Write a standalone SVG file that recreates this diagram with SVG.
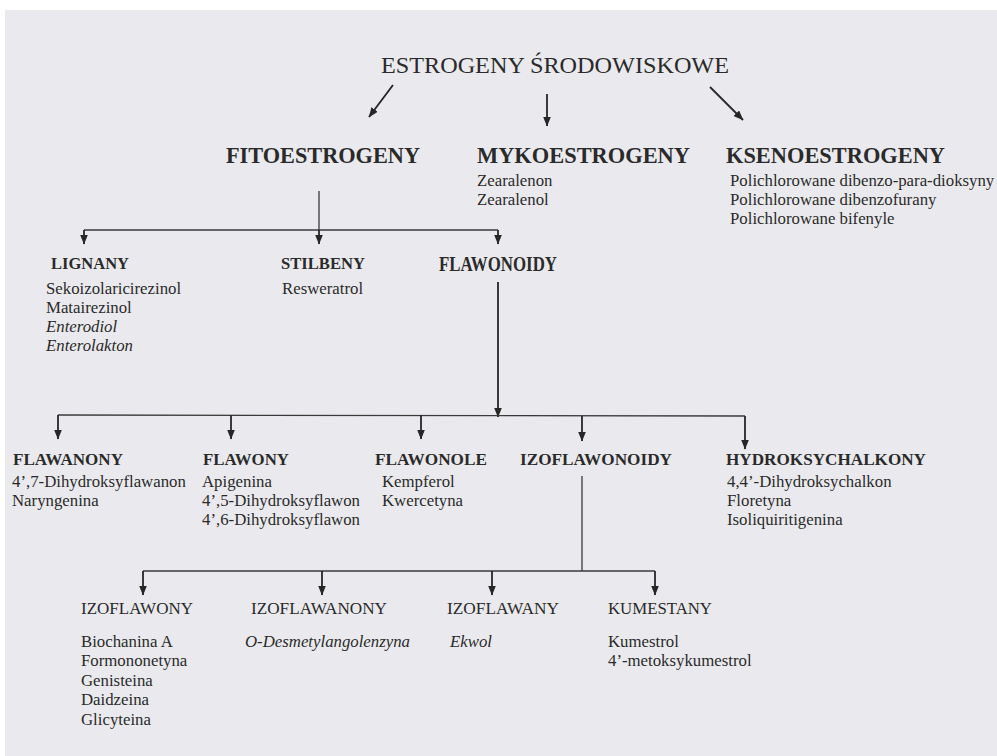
<svg xmlns="http://www.w3.org/2000/svg" width="997" height="756" viewBox="0 0 997 756">
<defs>
<marker id="ah" viewBox="0 0 10 8" refX="9.5" refY="4" markerWidth="10" markerHeight="8" markerUnits="userSpaceOnUse" orient="auto">
<path d="M0,0 L10,4 L0,8 Z" fill="#262626"/>
</marker>
</defs>
<style>
text{font-family:"Liberation Serif","Times New Roman","DejaVu Serif",serif;fill:#2a2a2a}
.t0{font-size:23px}
.t1{font-size:24px;font-weight:bold}
.t2{font-size:17px;font-weight:bold}
.t3{font-size:16.8px}
.it{font-style:italic}
.ln{stroke:#3a3a3a;stroke-width:1.3;fill:none}
.ar{stroke:#262626;stroke-width:1.8;fill:none;marker-end:url(#ah)}
</style>
<rect x="0" y="0" width="997" height="756" fill="#ffffff"/>
<rect x="5" y="10" width="992" height="746" fill="#eaeaee"/>
<g id="connectors">
<line class="ar" x1="393" y1="85" x2="369" y2="117"/>
<line class="ar" x1="547" y1="94" x2="547" y2="126"/>
<line class="ar" x1="710" y1="87" x2="743" y2="120"/>
<line class="ln" x1="319" y1="191" x2="319" y2="230"/>
<line class="ln" x1="84" y1="230" x2="498" y2="230"/>
<line class="ar" x1="84" y1="230" x2="84" y2="244"/>
<line class="ar" x1="319" y1="230" x2="319" y2="244"/>
<line class="ar" x1="498" y1="230" x2="498" y2="244"/>
<line class="ar" x1="498" y1="282" x2="498" y2="417"/>
<line class="ln" x1="58" y1="415" x2="745" y2="416"/>
<line class="ar" x1="58" y1="415" x2="58" y2="439"/>
<line class="ar" x1="231" y1="415" x2="231" y2="439"/>
<line class="ar" x1="421" y1="415" x2="421" y2="439"/>
<line class="ar" x1="582" y1="416" x2="582" y2="441"/>
<line class="ar" x1="745" y1="416" x2="745" y2="449"/>
<line class="ln" x1="582" y1="476" x2="582" y2="571"/>
<line class="ln" x1="143" y1="571" x2="655" y2="571"/>
<line class="ar" x1="143" y1="571" x2="143" y2="595"/>
<line class="ar" x1="322" y1="571" x2="322" y2="595"/>
<line class="ar" x1="492" y1="571" x2="492" y2="595"/>
<line class="ar" x1="655" y1="571" x2="655" y2="595"/>
</g>
<g id="root"><text class="t0" x="381" y="73" textLength="348" lengthAdjust="spacingAndGlyphs">ESTROGENY ŚRODOWISKOWE</text></g>
<g id="fitoestrogeny"><text class="t1" x="226" y="163" textLength="194" lengthAdjust="spacingAndGlyphs">FITOESTROGENY</text></g>
<g id="mykoestrogeny"><text class="t1" x="477" y="163" textLength="213" lengthAdjust="spacingAndGlyphs">MYKOESTROGENY</text>
<text class="t3" x="477" y="186">Zearalenon</text><text class="t3" x="477" y="205">Zearalenol</text></g>
<g id="ksenoestrogeny"><text class="t1" x="726" y="163" textLength="219" lengthAdjust="spacingAndGlyphs">KSENOESTROGENY</text>
<text class="t3" x="730" y="186">Polichlorowane dibenzo-para-dioksyny</text>
<text class="t3" x="730" y="205">Polichlorowane dibenzofurany</text>
<text class="t3" x="730" y="224">Polichlorowane bifenyle</text></g>
<g id="lignany"><text class="t2" x="51" y="269" textLength="78" lengthAdjust="spacingAndGlyphs">LIGNANY</text>
<text class="t3" x="46" y="294">Sekoizolaricirezinol</text><text class="t3" x="46" y="313">Matairezinol</text>
<text class="t3 it" x="46" y="332">Enterodiol</text><text class="t3 it" x="46" y="351">Enterolakton</text></g>
<g id="stilbeny"><text class="t2" x="281" y="269" textLength="84" lengthAdjust="spacingAndGlyphs">STILBENY</text><text class="t3" x="282" y="294">Resweratrol</text></g>
<g id="flawonoidy"><text class="t1" x="439" y="271" style="font-size:20px" textLength="118" lengthAdjust="spacingAndGlyphs">FLAWONOIDY</text></g>
<g id="flawanony"><text class="t2" x="13" y="465" textLength="110" lengthAdjust="spacingAndGlyphs">FLAWANONY</text>
<text class="t3" x="12" y="487">4’,7-Dihydroksyflawanon</text><text class="t3" x="12" y="506">Naryngenina</text></g>
<g id="flawony"><text class="t2" x="203" y="465" textLength="86" lengthAdjust="spacingAndGlyphs">FLAWONY</text>
<text class="t3" x="202" y="487">Apigenina</text><text class="t3" x="202" y="506">4’,5-Dihydroksyflawon</text><text class="t3" x="202" y="525">4’,6-Dihydroksyflawon</text></g>
<g id="flawonole"><text class="t2" x="375" y="465" textLength="112" lengthAdjust="spacingAndGlyphs">FLAWONOLE</text>
<text class="t3" x="382" y="487">Kempferol</text><text class="t3" x="382" y="506">Kwercetyna</text></g>
<g id="izoflawonoidy"><text class="t2" x="520" y="465" textLength="152" lengthAdjust="spacingAndGlyphs">IZOFLAWONOIDY</text></g>
<g id="hydroksychalkony"><text class="t2" x="726" y="465" textLength="200" lengthAdjust="spacingAndGlyphs">HYDROKSYCHALKONY</text>
<text class="t3" x="727" y="487">4,4’-Dihydroksychalkon</text><text class="t3" x="727" y="506">Floretyna</text><text class="t3" x="727" y="525">Isoliquiritigenina</text></g>
<g id="izoflawony"><text class="t3" x="81" y="614" textLength="112" lengthAdjust="spacingAndGlyphs">IZOFLAWONY</text>
<text class="t3" x="81" y="647">Biochanina A</text><text class="t3" x="81" y="666">Formononetyna</text><text class="t3" x="81" y="686">Genisteina</text><text class="t3" x="81" y="705">Daidzeina</text><text class="t3" x="81" y="725">Glicyteina</text></g>
<g id="izoflawanony"><text class="t3" x="251" y="614" textLength="136" lengthAdjust="spacingAndGlyphs">IZOFLAWANONY</text><text class="t3 it" x="245" y="647">O-Desmetylangolenzyna</text></g>
<g id="izoflawany"><text class="t3" x="447" y="614" textLength="112" lengthAdjust="spacingAndGlyphs">IZOFLAWANY</text><text class="t3 it" x="450" y="647">Ekwol</text></g>
<g id="kumestany"><text class="t3" x="608" y="614" textLength="104" lengthAdjust="spacingAndGlyphs">KUMESTANY</text>
<text class="t3" x="608" y="647">Kumestrol</text><text class="t3" x="608" y="666">4’-metoksykumestrol</text></g>
</svg>
